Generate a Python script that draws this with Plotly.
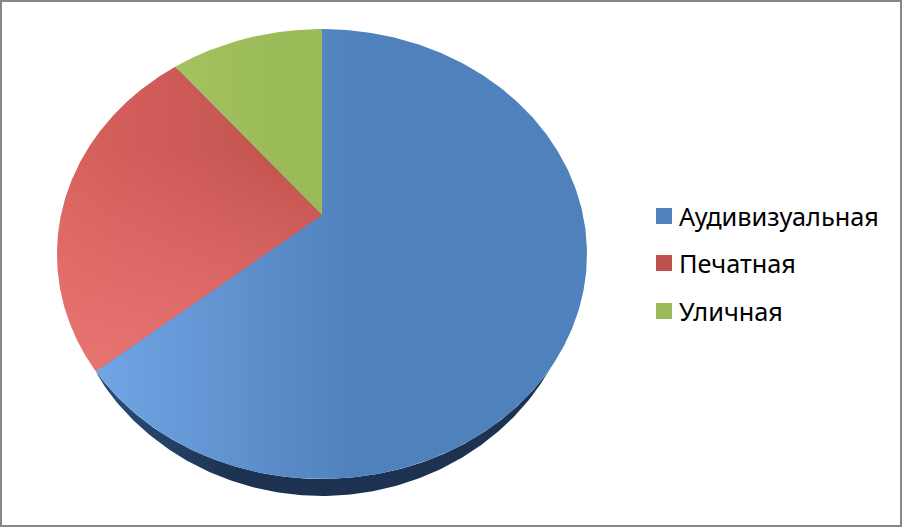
import numpy as np
import plotly.graph_objs as go

categories = ['Аудивизуальная', 'Печатная', 'Уличная']
shares = [64, 25, 11]
colors = ['#4f81bd', '#c0504d', '#9bbb59']
light_colors = ['#72a5e4', '#d8635f', '#a5c25f']

# tilted disc, in pixels of the page
cx, cy = 322, 215
rx, ry = 261, 218.2
tilt = 0.1733


def rim(theta):
    # theta is clockwise from 12 o'clock
    u, v = np.sin(theta), np.cos(theta)
    d = 1 + tilt * v
    return cx + rx * u / d, cy - ry * v / d


fig = go.Figure()

# side wall under the front edge
t = np.linspace(np.radians(122), np.radians(230.4), 200)
wx, wy = rim(t)
depth = 17 * np.clip(1 - ((wx - 321) / 225) ** 2, 0, 1) ** 0.6
fig.add_trace(go.Scatter(
    x=np.r_[wx, wx[::-1]], y=np.r_[wy, (wy + depth)[::-1]],
    mode='lines', fill='toself', line=dict(width=0), showlegend=False, hoverinfo='skip',
    fillgradient=dict(type='horizontal', start=97, stop=240,
                      colorscale=[[0, '#2c4d78'], [1, '#1c3250']]),
))

# backing disc so no white hairline shows between slices
bx, by = rim(np.linspace(0, 2 * np.pi, 400))
fig.add_trace(go.Scatter(
    x=cx + (bx - cx) * 0.98, y=cy + (by - cy) * 0.98,
    mode='lines', fill='toself', fillcolor=colors[0], line=dict(width=0), showlegend=False, hoverinfo='skip',
))

# slices
start = 0.0
total = sum(shares)
for name, share, col, light in zip(categories, shares, colors, light_colors):
    end = start + share / total * 2 * np.pi
    a = np.linspace(start, end, 300)
    x, y = rim(a)
    left = x.min()
    px, py = np.r_[cx, x, cx], np.r_[cy, y, cy]
    fig.add_trace(go.Scatter(
        x=px, y=py,
        mode='lines', fill='toself', line=dict(width=0), name=name, showlegend=False,
        fillgradient=dict(type='horizontal', start=left, stop=left + 260 if share > 20 else left + 100,
                          colorscale=[[0, light], [1, col]]),
    ))
    if name == 'Печатная':
        # the red slice brightens towards its lower left corner
        fig.add_trace(go.Scatter(
            x=px, y=py,
            mode='lines', fill='toself', line=dict(width=0), showlegend=False, hoverinfo='skip',
            fillgradient=dict(type='vertical', start=150, stop=370,
                              colorscale=[[0, 'rgba(236,120,117,0)'], [1, 'rgba(236,120,117,0.85)']]),
        ))
    start = end

# legend, placed by hand because the plotly legend leaves too wide a gap after the swatch
legend_y = [216, 263, 311]
shapes = [dict(type='rect', xref='x', yref='y', x0=1, y0=1, x1=901, y1=526,
               line=dict(color='#868686', width=2))]
annotations = []
for name, col, ly in zip(categories, colors, legend_y):
    shapes.append(dict(type='rect', xref='x', yref='y', x0=656, x1=672, y0=ly - 8, y1=ly + 8,
                       fillcolor=col, line=dict(width=0)))
    annotations.append(dict(text=name, xref='x', yref='y', x=678, y=ly, xanchor='left', yanchor='middle',
                            showarrow=False, xshift=-1))

fig.update_layout(
    width=902, height=527,
    margin=dict(l=0, r=0, t=0, b=0),
    paper_bgcolor='white',
    plot_bgcolor='white',
    showlegend=False,
    xaxis=dict(range=[0, 902], visible=False, fixedrange=True),
    yaxis=dict(range=[527, 0], visible=False, fixedrange=True),
    font=dict(family='Noto Sans', color='black', size=25.3),
    shapes=shapes,
    annotations=annotations,
)

fig.write_html("out.html", config=dict(displayModeBar=False),
               post_script="document.body.style.margin='0';")
